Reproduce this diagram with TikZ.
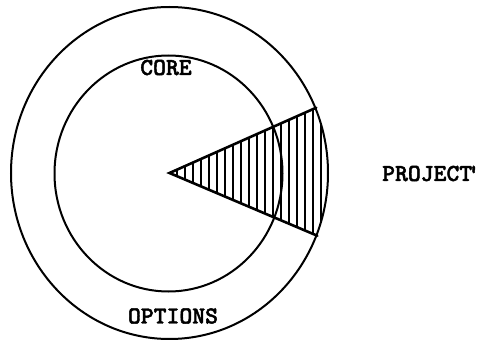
\documentclass[tikz,border=0pt]{standalone}
\usepackage{fontspec}
\newfontfamily\lblfont[FakeBold=1.8]{lmmonolt10-bold.otf}
\usetikzlibrary{shapes.geometric,calc}
\tikzset{
  ring/.style={draw, ellipse, inner sep=0pt, line width=2pt},
  wedgeline/.style={line width=2.6pt, line cap=round},
  hatch/.style={line width=1.5pt},
  label/.style={font=\lblfont\fontsize{24.5}{27}\selectfont, inner sep=0pt}
}
\begin{document}
\begin{tikzpicture}[x=1pt,y=-1pt]
\useasboundingbox (0,0) rectangle (480,340);
\coordinate (c) at (169.5,173);
\node[ring, minimum width=317pt, minimum height=332pt] (outer) at (c) {};
\node[ring, minimum width=228pt, minimum height=236pt] (inner) at (168.5,173.5) {};
\coordinate (u) at (outer.24.8);
\coordinate (l) at (outer.-23.6);
\begin{scope}
  \clip (c) ellipse [x radius=158.5, y radius=166];
  \clip (c) -- ($(c)!1.5!(u)$) -- ($(c)!1.5!(l)$) -- cycle;
  \foreach \x in {177,185,...,329} \draw[hatch] (\x,90) -- (\x,260);
\end{scope}
\draw[wedgeline] (u) -- (c) -- (l);
\node[label] (core) at (166,67.5) {CORE};
\node[label] (options) at (173,316) {OPTIONS};
\node[label, anchor=west] (project) at (382,173.5) {PROJECT\kern-5pt'};
\end{tikzpicture}
\end{document}
